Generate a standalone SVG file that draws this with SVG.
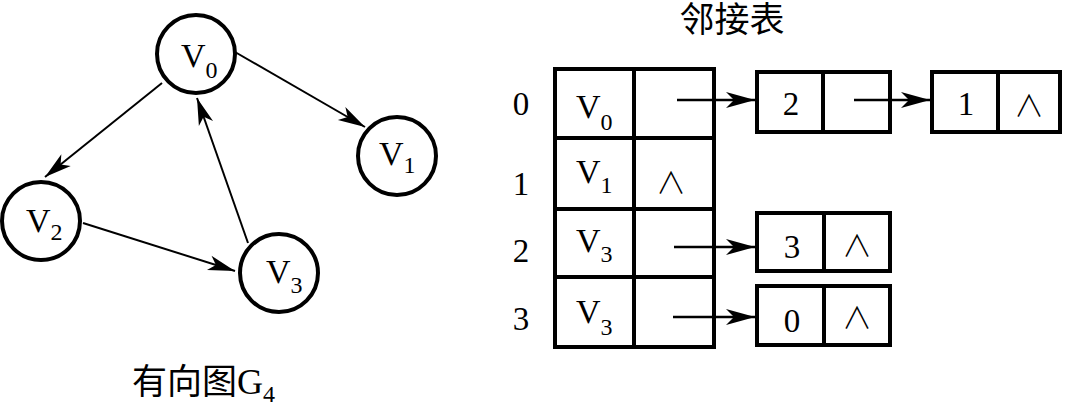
<svg xmlns="http://www.w3.org/2000/svg" width="1067" height="407" viewBox="0 0 1067 407">
<style>
.node{fill:#fff;stroke:#000;stroke-width:4}
.cell{fill:#fff;stroke:#000;stroke-width:4}
.edge{stroke:#000;stroke-width:2;fill:none}
.ptr{stroke:#000;stroke-width:2.5;fill:none}
.t{font-family:"Liberation Serif","Times New Roman",serif;fill:#000}
.v{font-size:34px}
.vt{font-size:34px}
.sub{font-size:24px}
.num{font-size:33px;text-anchor:middle}
.nil{font-family:"Noto Sans CJK SC",sans-serif;font-size:30px;font-weight:300;text-anchor:middle;fill:#000}
.cjk{font-family:"Liberation Serif","Noto Sans CJK SC",serif;font-size:35px;fill:#000}
</style>
<defs>
<marker id="ah" markerUnits="userSpaceOnUse" markerWidth="30" markerHeight="20" viewBox="-28 -10 30 20" refX="0" refY="0" orient="auto">
<path d="M0,0 L-27,-7.5 L-20,0 L-27,7.5 Z" fill="#000"/>
</marker>
<marker id="ah2" markerUnits="userSpaceOnUse" markerWidth="32" markerHeight="20" viewBox="-30 -10 32 20" refX="0" refY="0" orient="auto">
<path d="M0,0 L-29,-8 L-21,0 L-29,8 Z" fill="#000"/>
</marker>
</defs>
<rect width="1067" height="407" fill="#fff"/>

<g id="connectors">
<line class="edge" x1="235" y1="52" x2="365" y2="127" marker-end="url(#ah)"/>
<line class="edge" x1="162" y1="83" x2="45" y2="177" marker-end="url(#ah)"/>
<line class="edge" x1="248" y1="243" x2="197" y2="98" marker-end="url(#ah)"/>
<line class="edge" x1="83" y1="223" x2="235" y2="271" marker-end="url(#ah)"/>
</g>

<g id="node-v0">
<circle class="node" cx="196" cy="54" r="39"/>
<text class="t v" x="181" y="67">V<tspan class="sub" dy="11">0</tspan></text>
</g>
<g id="node-v1">
<circle class="node" cx="397" cy="156" r="39"/>
<text class="t v" x="379" y="165">V<tspan class="sub" dy="8">1</tspan></text>
</g>
<g id="node-v2">
<circle class="node" cx="41" cy="221" r="39"/>
<text class="t v" x="26" y="232">V<tspan class="sub" dy="8">2</tspan></text>
</g>
<g id="node-v3">
<circle class="node" cx="279" cy="273" r="39"/>
<text class="t v" x="266" y="283">V<tspan class="sub" dy="10">3</tspan></text>
</g>

<g id="label-g4">
<text class="cjk" x="132" y="394">有向图<tspan class="t" font-size="36px">G</tspan><tspan class="t sub" dy="8">4</tspan></text>
</g>

<g id="title">
<text class="cjk" x="732" y="32" text-anchor="middle">邻接表</text>
</g>

<g id="row-labels">
<text class="t num" x="521" y="115">0</text>
<text class="t num" x="521" y="195">1</text>
<text class="t num" x="521" y="262">2</text>
<text class="t num" x="521" y="330">3</text>
</g>

<g id="vertex-table">
<rect class="cell" x="555" y="69" width="159" height="278"/>
<line class="cell" x1="634" y1="69" x2="634" y2="347"/>
<line class="cell" x1="555" y1="138" x2="714" y2="138"/>
<line class="cell" x1="555" y1="209" x2="714" y2="209"/>
<line class="cell" x1="555" y1="277" x2="714" y2="277"/>
<text class="t vt" x="576" y="118">V<tspan class="sub" dy="12">0</tspan></text>
<text class="t vt" x="576" y="183">V<tspan class="sub" dy="10">1</tspan></text>
<text class="nil" x="671" y="193">∧</text>
<text class="t vt" x="576" y="252">V<tspan class="sub" dy="10">3</tspan></text>
<text class="t vt" x="576" y="323">V<tspan class="sub" dy="12">3</tspan></text>
</g>

<g id="arc-node-2">
<rect class="cell" x="757" y="72" width="133" height="60"/>
<line class="cell" x1="823" y1="72" x2="823" y2="132"/>
<text class="t num" x="791" y="115">2</text>
</g>
<g id="arc-node-1">
<rect class="cell" x="932" y="72" width="128" height="60"/>
<line class="cell" x1="998" y1="72" x2="998" y2="132"/>
<text class="t num" x="966" y="115">1</text>
<text class="nil" x="1029" y="116">∧</text>
</g>
<g id="arc-node-3">
<rect class="cell" x="757" y="213" width="133" height="58"/>
<line class="cell" x1="824" y1="213" x2="824" y2="271"/>
<text class="t num" x="792" y="258">3</text>
<text class="nil" x="857" y="256">∧</text>
</g>
<g id="arc-node-0">
<rect class="cell" x="757" y="286" width="133" height="59"/>
<line class="cell" x1="824" y1="286" x2="824" y2="345"/>
<text class="t num" x="792" y="332">0</text>
<text class="nil" x="857" y="328">∧</text>
</g>

<g id="pointer-connectors">
<line class="ptr" x1="677" y1="100" x2="755" y2="100" marker-end="url(#ah2)"/>
<line class="ptr" x1="854" y1="100" x2="930" y2="100" marker-end="url(#ah2)"/>
<line class="ptr" x1="674" y1="247" x2="755" y2="247" marker-end="url(#ah2)"/>
<line class="ptr" x1="673" y1="317" x2="755" y2="317" marker-end="url(#ah2)"/>
</g>
</svg>
